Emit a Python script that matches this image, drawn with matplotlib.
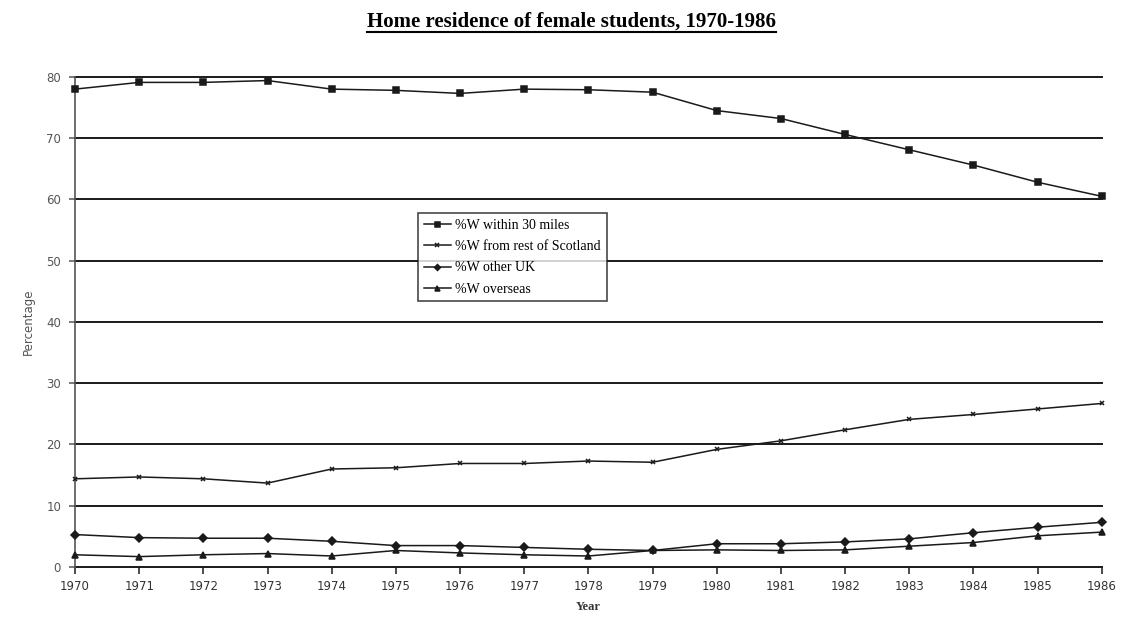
import matplotlib.pyplot as plt
from matplotlib.lines import Line2D

years = list(range(1970, 1987))

within_30 = [78.0, 79.1, 79.1, 79.4, 78.0, 77.8, 77.3, 78.0, 77.9, 77.5,
             74.5, 73.2, 70.6, 68.1, 65.6, 62.8, 60.5]
rest_scotland = [14.4, 14.7, 14.4, 13.7, 16.0, 16.2, 16.9, 16.9, 17.3, 17.1,
                 19.2, 20.6, 22.4, 24.1, 24.9, 25.8, 26.7]
other_uk = [5.3, 4.8, 4.7, 4.7, 4.2, 3.5, 3.5, 3.2, 2.9, 2.7,
            3.8, 3.8, 4.1, 4.6, 5.6, 6.5, 7.3]
overseas = [2.0, 1.7, 2.0, 2.2, 1.8, 2.7, 2.3, 2.0, 1.8, 2.7,
            2.8, 2.7, 2.8, 3.4, 4.0, 5.1, 5.7]

series = [
    ("%W within 30 miles", within_30, "s", 4.5),
    ("%W from rest of Scotland", rest_scotland, "x", 3.5),
    ("%W other UK", other_uk, "D", 3.8),
    ("%W overseas", overseas, "^", 4.5),
]

ink = "#1a1a1a"

fig = plt.figure(figsize=(11.21, 6.24), dpi=100)
ax = fig.add_axes([0.0669, 0.0913, 0.916, 0.7855])

for y in range(0, 90, 10):
    ax.axhline(y, color=ink, lw=1.4, zorder=1, clip_on=False)

for label, vals, mk, ms in series:
    ax.plot(years, vals, color=ink, lw=1.1, marker=mk, markersize=ms,
            markeredgewidth=1.1, label=label, zorder=3, clip_on=False)

ax.set_xlim(1970, 1986)
ax.set_ylim(0, 80)
ax.set_xticks(years)
ax.set_yticks(range(0, 90, 10))
for s in ["top", "right", "bottom"]:
    ax.spines[s].set_visible(False)
ax.spines["left"].set_color("#555555")
ax.spines["left"].set_linewidth(1.2)
ax.tick_params(axis="x", direction="out", length=5, width=1.1, color=ink,
               labelsize=8.5, pad=4, labelcolor="#333333")
ax.tick_params(axis="y", direction="out", length=4, width=1.1, color="#555555",
               labelsize=8.5, pad=6, labelcolor="#555555")
for t in ax.get_xticklabels() + ax.get_yticklabels():
    t.set_fontfamily("DejaVu Sans")

ax.set_xlabel("Year", fontsize=9, family="Liberation Serif", fontweight="bold",
              labelpad=6, color="#333333")
ax.set_ylabel("Percentage", fontsize=8.5, family="DejaVu Sans",
              labelpad=8, color="#555555")

leg = ax.legend(loc="upper left", bbox_to_anchor=(0.334, 0.722),
                prop={"family": "Liberation Serif", "size": 10},
                frameon=True, fancybox=False, edgecolor=ink, handlelength=2.0,
                borderpad=0.4, labelspacing=0.6, handletextpad=0.3,
                borderaxespad=0, markerscale=0.8)
leg.get_frame().set_linewidth(1.2)
leg.set_zorder(5)

title = fig.text(0.510, 0.958, "Home residence of female students, 1970-1986",
                 ha="center", va="baseline", fontsize=15,
                 family="Liberation Serif", fontweight="bold", color="black")

fig.canvas.draw()
bb = title.get_window_extent().transformed(fig.transFigure.inverted())
fig.add_artist(Line2D([bb.x0, bb.x1], [bb.y0 - 0.002, bb.y0 - 0.002],
                      color="black", lw=1.5, transform=fig.transFigure))

fig.savefig("out.png", dpi=100, facecolor="white")
